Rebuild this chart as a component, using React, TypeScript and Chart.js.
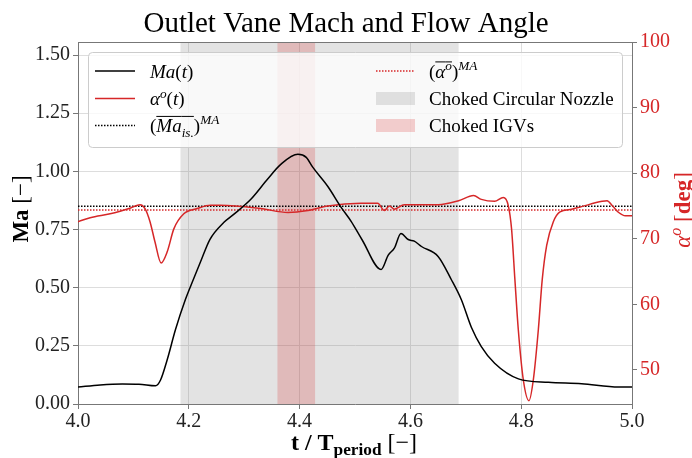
import React, { useEffect, useRef } from "react";
import { Chart, registerables } from "chart.js";

Chart.register(...registerables);

const SERIF = '"Liberation Serif", "Times New Roman", serif';
const RED = "#d62728";

// ---- data ----
const timeMa = [
  4.0, 4.04, 4.08, 4.11, 4.14, 4.149, 4.161, 4.176, 4.194, 4.208, 4.221, 4.238, 4.263, 4.281,
  4.312, 4.342, 4.366, 4.397, 4.412, 4.424, 4.451, 4.475, 4.493, 4.513, 4.547, 4.56, 4.571,
  4.583, 4.596, 4.607, 4.62, 4.65, 4.674, 4.692, 4.71, 4.728, 4.752, 4.795, 4.849, 4.909, 4.976, 5.0,
];
const machValues = [
  0.073, 0.082, 0.086, 0.085, 0.078, 0.103, 0.19, 0.32, 0.45, 0.534, 0.61, 0.707, 0.78, 0.815,
  0.88, 0.966, 1.03, 1.073, 1.06, 1.017, 0.935, 0.845, 0.785, 0.705, 0.578, 0.64, 0.67,
  0.733, 0.707, 0.7, 0.677, 0.634, 0.534, 0.448, 0.33, 0.247, 0.175, 0.108, 0.093, 0.087, 0.073, 0.073,
];
const timeAngle = [
  4.0, 4.022, 4.058, 4.076, 4.095, 4.112, 4.121, 4.13, 4.139, 4.15, 4.161, 4.173, 4.191, 4.215,
  4.239, 4.257, 4.33, 4.379, 4.415, 4.451, 4.511, 4.541, 4.553, 4.562, 4.571, 4.589,
  4.65, 4.687, 4.714, 4.728, 4.752, 4.7676, 4.7766, 4.7826, 4.7886, 4.7947, 4.8038, 4.814,
  4.8219, 4.831, 4.838, 4.846, 4.858, 4.87, 4.891, 4.909, 4.946, 4.955, 4.965, 4.976, 4.988, 5.0,
];
const angleValues = [
  72.6, 73.2, 73.8, 74.2, 74.7, 75.2, 74.6, 72.6, 69.5, 66.3, 68.0, 71.5, 73.8, 74.6,
  75.1, 75.1, 74.6, 74.0, 74.3, 75.0, 75.4, 75.4, 74.3, 75.0, 74.5, 75.2,
  75.2, 75.8, 76.6, 76.0, 75.7, 76.3, 75.1, 71.5, 63.8, 56.2, 48.5, 45.3,
  48.5, 56.2, 63.8, 69.0, 72.6, 74.1, 74.5, 74.9, 75.7, 75.8, 75.0, 74.0, 73.5, 73.5,
];
const machMean = 0.85;
const angleMean = 74.4;
const nozzleChoked = [4.185, 4.687];
const igvChoked = [4.36, 4.428];
const xTicks = [4.0, 4.2, 4.4, 4.6, 4.8, 5.0];
const machTicks = [0, 0.25, 0.5, 0.75, 1.0, 1.25, 1.5];
const angleTicks = [50, 60, 70, 80, 90, 100];
const xRange = [4.0, 5.0];
const machRange = [0, 1.556];
const angleRange = [44.8, 100];

type Seg = { t: string; it?: boolean; b?: boolean; sc?: number; dy?: number; ol?: boolean };

function segFont(seg: Seg, size: number) {
  const s = size * (seg.sc ?? 1);
  return `${seg.it ? "italic " : ""}${seg.b ? "bold " : ""}${s}px ${SERIF}`;
}
function richWidth(ctx: CanvasRenderingContext2D, segs: Seg[], size: number) {
  let w = 0;
  for (const seg of segs) {
    ctx.font = segFont(seg, size);
    w += ctx.measureText(seg.t).width;
  }
  return w;
}
function drawRich(ctx: CanvasRenderingContext2D, segs: Seg[], x: number, y: number, size: number, color: string) {
  let cx = x;
  ctx.fillStyle = color;
  ctx.strokeStyle = color;
  ctx.textAlign = "left";
  ctx.textBaseline = "alphabetic";
  for (const seg of segs) {
    ctx.font = segFont(seg, size);
    const w = ctx.measureText(seg.t).width;
    ctx.fillText(seg.t, cx, y + (seg.dy ?? 0) * size);
    if (seg.ol) {
      ctx.lineWidth = 1;
      ctx.beginPath();
      ctx.moveTo(cx, y - size * 0.82);
      ctx.lineTo(cx + w, y - size * 0.82);
      ctx.stroke();
    }
    cx += w;
  }
  return cx - x;
}

const legendItems: { kind: string; color: string; segs: Seg[] }[] = [
  { kind: "line", color: "#000", segs: [{ t: "Ma", it: true }, { t: "(" }, { t: "t", it: true }, { t: ")" }] },
  {
    kind: "line",
    color: RED,
    segs: [{ t: "α", it: true }, { t: "o", it: true, sc: 0.7, dy: -0.38 }, { t: "(" }, { t: "t", it: true }, { t: ")" }],
  },
  {
    kind: "dot",
    color: "#000",
    segs: [
      { t: "(" },
      { t: "Ma", it: true, ol: true },
      { t: "is.", it: true, sc: 0.7, dy: 0.25, ol: true },
      { t: ")" },
      { t: "MA", it: true, sc: 0.7, dy: -0.42 },
    ],
  },
  {
    kind: "dot",
    color: RED,
    segs: [
      { t: "(" },
      { t: "α", it: true, ol: true },
      { t: "o", it: true, sc: 0.7, dy: -0.38, ol: true },
      { t: ")" },
      { t: "MA", it: true, sc: 0.7, dy: -0.42 },
    ],
  },
  { kind: "patch", color: "rgba(128,128,128,0.22)", segs: [{ t: "Choked Circular Nozzle" }] },
  { kind: "patch", color: "rgba(214,39,40,0.22)", segs: [{ t: "Choked IGVs" }] },
];

const bandsPlugin = {
  id: "bands",
  beforeDatasetsDraw(chart: any) {
    const { ctx, chartArea, scales } = chart;
    const x = scales.x;
    ctx.save();
    const bands = [
      { r: nozzleChoked, c: "rgba(128,128,128,0.22)" },
      { r: igvChoked, c: "rgba(214,39,40,0.22)" },
    ];
    for (const b of bands) {
      const x0 = x.getPixelForValue(b.r[0]);
      const x1 = x.getPixelForValue(b.r[1]);
      ctx.fillStyle = b.c;
      ctx.fillRect(x0, chartArea.top, x1 - x0, chartArea.bottom - chartArea.top);
    }
    ctx.restore();
  },
};

const decorPlugin = {
  id: "decor",
  afterDraw(chart: any) {
    const { ctx, chartArea } = chart;
    ctx.save();
    // top spine
    ctx.strokeStyle = "#777";
    ctx.lineWidth = 1;
    ctx.beginPath();
    ctx.moveTo(chartArea.left, chartArea.top + 0.5);
    ctx.lineTo(chartArea.right, chartArea.top + 0.5);
    ctx.stroke();

    // title
    ctx.fillStyle = "#000";
    ctx.font = `29px ${SERIF}`;
    ctx.textAlign = "center";
    ctx.textBaseline = "alphabetic";
    ctx.fillText("Outlet Vane Mach and Flow Angle", 346, 32);

    // x label
    const xs: Seg[] = [{ t: "t / T", b: true }, { t: "period", b: true, sc: 0.72, dy: 0.22 }, { t: " [−]" }];
    const xw = richWidth(ctx, xs, 24);
    drawRich(ctx, xs, 354 - xw / 2, 450, 24, "#000");

    // left y label
    const ls: Seg[] = [{ t: "Ma", b: true }, { t: " [−]" }];
    const lw = richWidth(ctx, ls, 23);
    ctx.save();
    ctx.translate(28, 209);
    ctx.rotate(-Math.PI / 2);
    drawRich(ctx, ls, -lw / 2, 0, 23, "#000");
    ctx.restore();

    // right y label
    const rs: Seg[] = [{ t: "α", it: true }, { t: "o", it: true, sc: 0.7, dy: -0.38 }, { t: " [" }, { t: "deg", b: true }, { t: "]" }];
    const rw = richWidth(ctx, rs, 23);
    ctx.save();
    ctx.translate(690, 210);
    ctx.rotate(-Math.PI / 2);
    drawRich(ctx, rs, -rw / 2, 0, 23, RED);
    ctx.restore();

    // legend
    const bx = 88, by = 52, bw = 534, bh = 95;
    ctx.fillStyle = "rgba(255,255,255,0.8)";
    ctx.strokeStyle = "#cccccc";
    ctx.lineWidth = 1;
    ctx.beginPath();
    (ctx as any).roundRect(bx + 0.5, by + 0.5, bw, bh, 4);
    ctx.fill();
    ctx.stroke();

    const rows = [71, 98.5, 125.5];
    const cols = [
      { h0: 95, h1: 135, tx: 150 },
      { h0: 376, h1: 415, tx: 429 },
    ];
    legendItems.forEach((it, i) => {
      const col = cols[Math.floor(i / 3)];
      const cy = rows[i % 3];
      if (it.kind === "line" || it.kind === "dot") {
        ctx.strokeStyle = it.color;
        ctx.lineWidth = 1.5;
        ctx.setLineDash(it.kind === "dot" ? [1.5, 1.5] : []);
        ctx.beginPath();
        ctx.moveTo(col.h0, cy);
        ctx.lineTo(col.h1, cy);
        ctx.stroke();
        ctx.setLineDash([]);
      } else {
        ctx.fillStyle = it.color;
        ctx.fillRect(col.h0, cy - 6.5, col.h1 - col.h0, 13);
      }
      drawRich(ctx, it.segs, col.tx, cy + 6.5, 19, "#000");
    });
    ctx.restore();
  },
};

export default function App() {
  const ref = useRef<HTMLCanvasElement | null>(null);
  useEffect(() => {
    if (!ref.current) return;
    const machPts = timeMa.map((x, i) => ({ x, y: machValues[i] }));
    const anglePts = timeAngle.map((x, i) => ({ x, y: angleValues[i] }));
    const chart = new Chart(ref.current, {
      type: "line",
      data: {
        datasets: [
          {
            label: "Ma(t)",
            data: machPts,
            borderColor: "#000",
            borderWidth: 1.5,
            pointRadius: 0,
            yAxisID: "y",
            cubicInterpolationMode: "monotone",
          },
          {
            label: "alpha(t)",
            data: anglePts,
            borderColor: RED,
            borderWidth: 1.5,
            pointRadius: 0,
            yAxisID: "y1",
            cubicInterpolationMode: "monotone",
          },
          {
            label: "Ma mean",
            data: [
              { x: xRange[0], y: machMean },
              { x: xRange[1], y: machMean },
            ],
            borderColor: "#000",
            borderWidth: 1.5,
            borderDash: [1.5, 1.5],
            pointRadius: 0,
            yAxisID: "y",
          },
          {
            label: "alpha mean",
            data: [
              { x: xRange[0], y: angleMean },
              { x: xRange[1], y: angleMean },
            ],
            borderColor: RED,
            borderWidth: 1.5,
            borderDash: [1.5, 1.5],
            pointRadius: 0,
            yAxisID: "y1",
          },
        ],
      },
      options: {
        animation: false,
        responsive: false,
        devicePixelRatio: 1,
        layout: { padding: { top: 42, left: 0, right: 0, bottom: 0 } },
        plugins: { legend: { display: false }, title: { display: false }, tooltip: { enabled: false } },
        scales: {
          x: {
            type: "linear",
            min: xRange[0],
            max: xRange[1],
            afterBuildTicks: (s: any) => {
              s.ticks = xTicks.map((v) => ({ value: v }));
            },
            afterFit: (s: any) => {
              s.height = 54;
            },
            ticks: {
              callback: (v: any) => Number(v).toFixed(1),
              font: { family: SERIF, size: 20 },
              color: "#222",
              padding: 1,
              maxRotation: 0,
            },
            grid: { color: "#dddddd", tickColor: "#777", tickLength: 5 },
            border: { color: "#777" },
          },
          y: {
            position: "left",
            min: machRange[0],
            max: machRange[1],
            afterBuildTicks: (s: any) => {
              s.ticks = machTicks.map((v) => ({ value: v }));
            },
            afterFit: (s: any) => {
              s.width = 78;
            },
            ticks: {
              callback: (v: any) => Number(v).toFixed(2),
              font: { family: SERIF, size: 20 },
              color: "#222",
              padding: 3,
            },
            grid: { color: "#dddddd", tickColor: "#777", tickLength: 5 },
            border: { color: "#777" },
          },
          y1: {
            position: "right",
            min: angleRange[0],
            max: angleRange[1],
            afterBuildTicks: (s: any) => {
              s.ticks = angleTicks.map((v) => ({ value: v }));
            },
            afterFit: (s: any) => {
              s.width = 60;
            },
            ticks: {
              callback: (v: any) => String(v),
              font: { family: SERIF, size: 20 },
              color: RED,
              padding: 3,
            },
            grid: { drawOnChartArea: false, tickColor: "#777", tickLength: 5 },
            border: { color: "#777" },
          },
        },
      },
      plugins: [bandsPlugin, decorPlugin],
    } as any);
    return () => chart.destroy();
  }, []);
  return (
    <div style={{ position: "absolute", left: 0, top: 0, width: 692, height: 458, background: "#fff" }}>
      <canvas ref={ref} width={692} height={458} />
    </div>
  );
}
